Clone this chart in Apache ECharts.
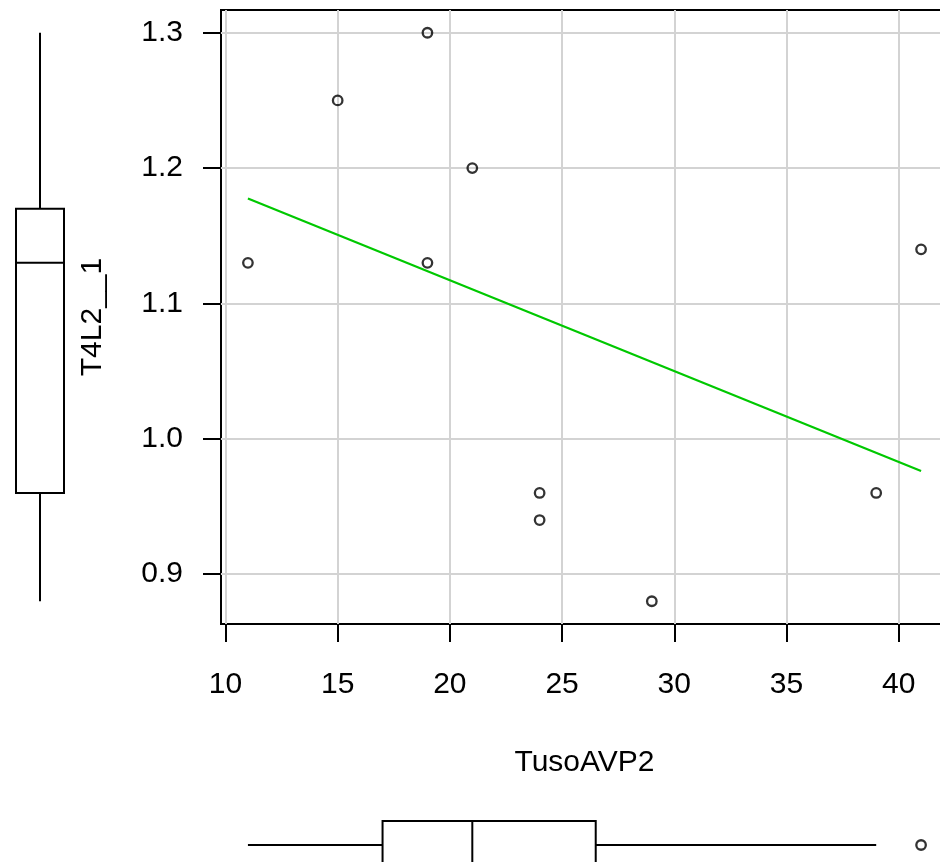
<!DOCTYPE html>
<html>
<head>
<meta charset="utf-8">
<script src="https://cdn.jsdelivr.net/npm/echarts@6/dist/echarts.min.js"></script>
<style>
html,body{margin:0;padding:0;background:#fff;}
#chart{width:940px;height:862px;}
</style>
</head>
<body>
<div id="chart"></div>
<script>
// ---- data ----
var xValues = [11, 15, 19, 19, 21, 24, 24, 29, 39, 41];          // TusoAVP2
var yValues = [1.13, 1.25, 1.30, 1.13, 1.20, 0.96, 0.94, 0.88, 0.96, 1.14]; // T4L2__1
var xTicks = [10, 15, 20, 25, 30, 35, 40];
var yTicks = [0.9, 1.0, 1.1, 1.2, 1.3];
// boxplot summaries [lower whisker, Q1, median, Q3, upper whisker]
var yBox = [0.88, 0.96, 1.13, 1.17, 1.30];
var xBox = [11, 17, 21, 26.5, 39];
var xOutliers = [41];
var xName = 'TusoAVP2';
var yName = 'T4L2__1';

// ---- derived ----
var points = xValues.map(function (x, i) { return [x, yValues[i]]; });
var n = xValues.length;
var mx = xValues.reduce(function (a, b) { return a + b; }, 0) / n;
var my = yValues.reduce(function (a, b) { return a + b; }, 0) / n;
var sxy = 0, sxx = 0;
for (var i = 0; i < n; i++) { sxy += (xValues[i] - mx) * (yValues[i] - my); sxx += (xValues[i] - mx) * (xValues[i] - mx); }
var slope = sxy / sxx, icpt = my - slope * mx;
var xMinD = Math.min.apply(null, xValues), xMaxD = Math.max.apply(null, xValues);
var yMinD = Math.min.apply(null, yValues), yMaxD = Math.max.apply(null, yValues);
var fitLine = [[xMinD, icpt + slope * xMinD], [xMaxD, icpt + slope * xMaxD]];
var xPad = (xMaxD - xMinD) * 0.04, yPad = (yMaxD - yMinD) * 0.04;
var xMin = xMinD - xPad, xMax = xMaxD + xPad, yMin = yMinD - yPad, yMax = yMaxD + yPad;

var FONT = '"Liberation Sans", Arial, sans-serif';
var BLACK = '#000';

function vBoxRender(params, api) {
  var cx = api.coord([api.value(0), api.value(1)])[0];
  var yLo = api.coord([0, api.value(1)])[1];
  var yQ1 = api.coord([0, api.value(2)])[1];
  var yMd = api.coord([0, api.value(3)])[1];
  var yQ3 = api.coord([0, api.value(4)])[1];
  var yHi = api.coord([0, api.value(5)])[1];
  var hw = 24;
  var ls = { stroke: BLACK, lineWidth: 2 };
  return { type: 'group', children: [
    { type: 'line', shape: { x1: cx, y1: yHi, x2: cx, y2: yQ3 }, style: ls },
    { type: 'line', shape: { x1: cx, y1: yQ1, x2: cx, y2: yLo }, style: ls },
    { type: 'rect', shape: { x: cx - hw, y: yQ3, width: 2 * hw, height: yQ1 - yQ3 }, style: { fill: '#fff', stroke: BLACK, lineWidth: 2 } },
    { type: 'line', shape: { x1: cx - hw, y1: yMd, x2: cx + hw, y2: yMd }, style: ls }
  ]};
}
function hBoxRender(params, api) {
  var cy = api.coord([api.value(1), api.value(0)])[1];
  var xLo = api.coord([api.value(1), 0])[0];
  var xQ1 = api.coord([api.value(2), 0])[0];
  var xMd = api.coord([api.value(3), 0])[0];
  var xQ3 = api.coord([api.value(4), 0])[0];
  var xHi = api.coord([api.value(5), 0])[0];
  var hh = 24;
  var ls = { stroke: BLACK, lineWidth: 2 };
  return { type: 'group', children: [
    { type: 'line', shape: { x1: xLo, y1: cy, x2: xQ1, y2: cy }, style: ls },
    { type: 'line', shape: { x1: xQ3, y1: cy, x2: xHi, y2: cy }, style: ls },
    { type: 'rect', shape: { x: xQ1, y: cy - hh, width: xQ3 - xQ1, height: 2 * hh }, style: { fill: '#fff', stroke: BLACK, lineWidth: 2 } },
    { type: 'line', shape: { x1: xMd, y1: cy - hh, x2: xMd, y2: cy + hh }, style: ls }
  ]};
}

var chart = echarts.init(document.getElementById('chart'), null, { renderer: 'canvas' });
var option = {
  animation: false,
  backgroundColor: '#fff',
  textStyle: { fontFamily: FONT },
  grid: [
    { left: 221, top: 10, width: 727, height: 614, show: true, borderColor: BLACK, borderWidth: 2,
      backgroundColor: 'transparent', outerBoundsMode: 'none', containLabel: false },
    { left: 0, top: 10, width: 80, height: 614, outerBoundsMode: 'none', containLabel: false },
    { left: 221, top: 805, width: 727, height: 80, outerBoundsMode: 'none', containLabel: false }
  ],
  xAxis: [
    { gridIndex: 0, type: 'value', min: xMin, max: xMax,
      name: xName, nameLocation: 'middle', nameGap: 124,
      nameTextStyle: { fontSize: 30, color: BLACK, fontFamily: FONT },
      axisLine: { show: false },
      axisTick: { show: true, length: 18, lineStyle: { color: BLACK, width: 2 }, customValues: xTicks },
      axisLabel: { fontSize: 30, color: BLACK, margin: 46, fontFamily: FONT, customValues: xTicks },
      splitLine: { show: true, lineStyle: { color: '#D3D3D3', width: 2 } } },
    { gridIndex: 1, type: 'value', min: -1, max: 1, show: false },
    { gridIndex: 2, type: 'value', min: xMin, max: xMax, show: false }
  ],
  yAxis: [
    { gridIndex: 0, type: 'value', min: yMin, max: yMax,
      name: yName, nameLocation: 'middle', nameGap: 113,
      nameTextStyle: { fontSize: 30, color: BLACK, fontFamily: FONT },
      axisLine: { show: false },
      axisTick: { show: true, length: 18, lineStyle: { color: BLACK, width: 2 }, customValues: yTicks },
      axisLabel: { fontSize: 30, color: BLACK, margin: 38, fontFamily: FONT, customValues: yTicks,
        formatter: function (v) { return Number(v).toFixed(1); } },
      splitLine: { show: true, lineStyle: { color: '#D3D3D3', width: 2 } } },
    { gridIndex: 1, type: 'value', min: yMin, max: yMax, show: false },
    { gridIndex: 2, type: 'value', min: -1, max: 1, show: false }
  ],
  series: [
    { type: 'line', xAxisIndex: 0, yAxisIndex: 0, data: fitLine, showSymbol: false, symbol: 'none',
      lineStyle: { color: '#00C800', width: 2.2 }, z: 3 },
    { type: 'scatter', xAxisIndex: 0, yAxisIndex: 0, data: points, symbol: 'circle', symbolSize: 9.5,
      itemStyle: { color: 'transparent', borderColor: BLACK, borderWidth: 2.3 }, z: 4 },
    { type: 'custom', xAxisIndex: 1, yAxisIndex: 1, renderItem: vBoxRender,
      data: [[0].concat(yBox)], encode: { x: 0, y: [1, 2, 3, 4, 5] }, silent: true },
    { type: 'custom', xAxisIndex: 2, yAxisIndex: 2, renderItem: hBoxRender,
      data: [[0].concat(xBox)], encode: { y: 0, x: [1, 2, 3, 4, 5] }, silent: true },
    { type: 'scatter', xAxisIndex: 2, yAxisIndex: 2, data: xOutliers.map(function (v) { return [v, 0]; }),
      symbol: 'circle', symbolSize: 9.5, itemStyle: { color: 'transparent', borderColor: BLACK, borderWidth: 2.3 } }
  ]
};
chart.setOption(option);
</script>
</body>
</html>
